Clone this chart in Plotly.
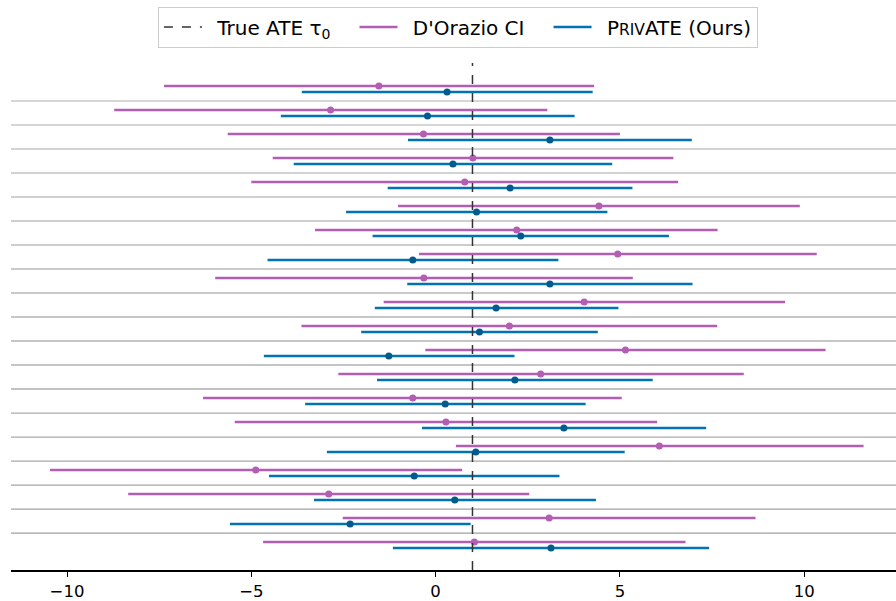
import plotly.graph_objects as go

# ---- data, rows from top to bottom ----
true_ate = 1.0

dorazio_low = [-7.37, -8.72, -5.64, -4.42, -5.00, -1.02, -3.27, -0.45, -5.98, -1.41,
               -3.64, -0.28, -2.64, -6.31, -5.45, 0.55, -10.46, -8.34, -2.52, -4.68]
dorazio_high = [4.30, 3.03, 5.00, 6.45, 6.58, 9.88, 7.65, 10.34, 5.35, 9.48,
                7.64, 10.58, 8.36, 5.05, 6.01, 11.61, 0.72, 2.54, 8.68, 6.78]
dorazio_est = [-1.54, -2.85, -0.33, 1.01, 0.79, 4.43, 2.20, 4.94, -0.32, 4.03,
               2.00, 5.15, 2.85, -0.62, 0.28, 6.07, -4.88, -2.90, 3.08, 1.05]

private_low = [-3.63, -4.20, -0.75, -3.85, -1.30, -2.43, -1.71, -4.56, -0.77, -1.65,
               -2.02, -4.66, -1.59, -3.54, -0.37, -2.95, -4.52, -3.30, -5.58, -1.16]
private_high = [4.26, 3.77, 6.95, 4.79, 5.34, 4.66, 6.33, 3.33, 6.97, 4.96,
                4.40, 2.14, 5.89, 4.07, 7.34, 5.13, 3.36, 4.35, 0.95, 7.42]
private_est = [0.31, -0.22, 3.10, 0.47, 2.02, 1.11, 2.31, -0.62, 3.10, 1.64,
               1.19, -1.27, 2.15, 0.26, 3.48, 1.09, -0.58, 0.52, -2.32, 3.13]

x_ticks = [-10, -5, 0, 5, 10]

# ---- styling ----
PURPLE = "#b35db3"
BLUE = "#0173b2"
BLUE_DOT = "#045a8d"
FONT = "DejaVu Sans"
LEAD = "\u00a0\u2009"
PAD = "\u00a0" * 3

n = len(dorazio_low)
rows = list(range(n))
off = 0.125

fig = go.Figure()

# legend entry for true ATE (line itself drawn as a shape)
fig.add_trace(go.Scatter(x=[None], y=[None], mode="lines",
                         line=dict(color="#333333", width=1.5, dash="dash"),
                         name=LEAD + "True ATE τ<sub>0</sub>" + PAD))


def seg(lows, highs, dy):
    xs, ys = [], []
    for i, (a, b) in enumerate(zip(lows, highs)):
        xs += [a, b, None]
        ys += [i + dy, i + dy, None]
    return xs, ys


xs, ys = seg(dorazio_low, dorazio_high, -off)
fig.add_trace(go.Scatter(x=xs, y=ys, mode="lines", line=dict(color=PURPLE, width=2.6),
                         name=LEAD + "D'Orazio CI" + PAD))
xs, ys = seg(private_low, private_high, off)
fig.add_trace(go.Scatter(x=xs, y=ys, mode="lines", line=dict(color=BLUE, width=2.6),
                         name=LEAD + "P<span style='font-size:15.5px'>RIV</span>ATE (Ours)"))

fig.add_trace(go.Scatter(x=dorazio_est, y=[r - off for r in rows], mode="markers",
                         marker=dict(color=PURPLE, size=7), showlegend=False))
fig.add_trace(go.Scatter(x=private_est, y=[r + off for r in rows], mode="markers",
                         marker=dict(color=BLUE_DOT, size=7), showlegend=False))

# row separators (gray, darkening toward the bottom)
shapes = []
for k in range(n - 1):
    t = k / (n - 2)
    g = int(round(202 - t * 42))
    shapes.append(dict(type="line", xref="paper", x0=0, x1=1, yref="y",
                       y0=k + 0.5, y1=k + 0.5, layer="below",
                       line=dict(color=f"rgb({g},{g},{g})", width=1.3)))
shapes.append(dict(type="line", xref="x", x0=true_ate, x1=true_ate, yref="paper",
                   y0=0, y1=1, line=dict(color="#333333", width=1.5, dash="dash")))

fig.update_layout(
    width=896, height=601,
    margin=dict(l=11, r=0, t=63, b=31),
    paper_bgcolor="white", plot_bgcolor="white",
    font=dict(family=FONT, size=16.5, color="black"),
    shapes=shapes,
    showlegend=True,
    legend=dict(orientation="h", x=0.505, xanchor="center", y=1.071, yanchor="middle",
                font=dict(size=20, family=FONT), bordercolor="#cccccc", borderwidth=1,
                bgcolor="white", tracegroupgap=0, itemwidth=38),
    xaxis=dict(range=[-11.52, 12.49], tickvals=x_ticks, showgrid=False, zeroline=False,
               showline=True, linecolor="black", linewidth=1.5, ticks="outside",
               ticklen=5, tickwidth=1.2, tickcolor="black",
               tickfont=dict(size=16.5, family=FONT)),
    yaxis=dict(range=[20.04, -1.083], showgrid=False, zeroline=False, showline=False,
               showticklabels=False, ticks=""),
)

fig.write_html("out.html",
               config={"displayModeBar": False},
               post_script="document.body.style.margin='0';"
                           "document.body.style.overflow='hidden';")
